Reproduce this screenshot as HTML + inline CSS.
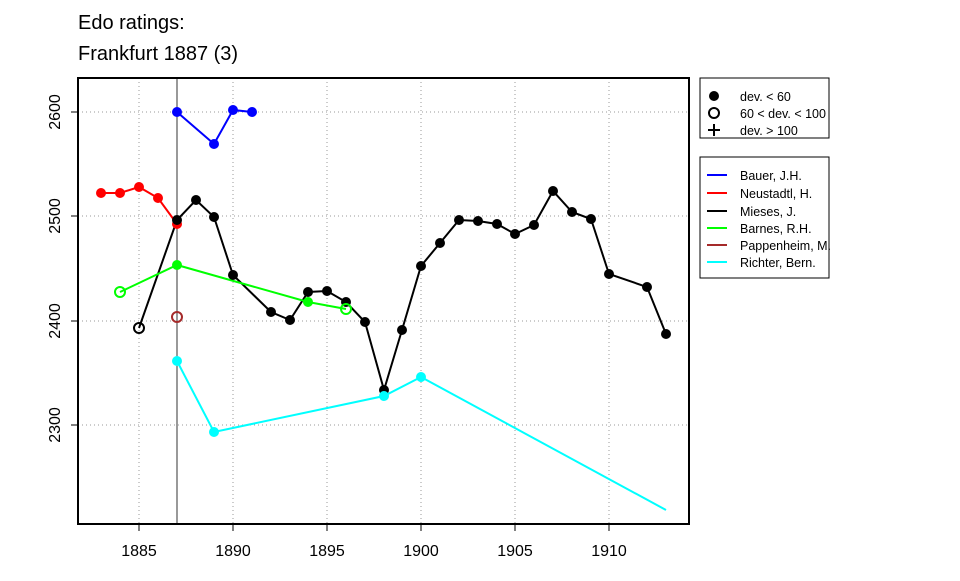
<!DOCTYPE html><html><head><style>body{margin:0;background:#fff}svg{font-family:"Liberation Sans",Arial,sans-serif}</style></head><body>
<svg width="960" height="576" xmlns="http://www.w3.org/2000/svg">
<text x="78" y="29" font-size="20">Edo ratings:</text>
<text x="78" y="60" font-size="20">Frankfurt 1887 (3)</text>
<g stroke="#999" stroke-dasharray="1,3" stroke-width="1">
<line x1="139" y1="78" x2="139" y2="524"/><line x1="233" y1="78" x2="233" y2="524"/><line x1="327" y1="78" x2="327" y2="524"/><line x1="421" y1="78" x2="421" y2="524"/><line x1="515" y1="78" x2="515" y2="524"/><line x1="609" y1="78" x2="609" y2="524"/>
<line x1="78" y1="112" x2="689" y2="112"/><line x1="78" y1="216" x2="689" y2="216"/><line x1="78" y1="321" x2="689" y2="321"/><line x1="78" y1="425" x2="689" y2="425"/>
</g>
<line x1="177" y1="78" x2="177" y2="524" stroke="#000" stroke-width="0.8"/>
<rect x="78" y="78" width="611" height="446" fill="none" stroke="#000" stroke-width="2"/>
<g stroke="#000"><line x1="139" y1="524" x2="139" y2="531"/><line x1="233" y1="524" x2="233" y2="531"/><line x1="327" y1="524" x2="327" y2="531"/><line x1="421" y1="524" x2="421" y2="531"/><line x1="515" y1="524" x2="515" y2="531"/><line x1="609" y1="524" x2="609" y2="531"/>
<line x1="71" y1="112" x2="78" y2="112"/><line x1="71" y1="216" x2="78" y2="216"/><line x1="71" y1="321" x2="78" y2="321"/><line x1="71" y1="425" x2="78" y2="425"/></g>
<g font-size="16" text-anchor="middle"><text x="139" y="556">1885</text><text x="233" y="556">1890</text><text x="327" y="556">1895</text><text x="421" y="556">1900</text><text x="515" y="556">1905</text><text x="609" y="556">1910</text>
<text transform="translate(60,112) rotate(-90)">2600</text><text transform="translate(60,216) rotate(-90)">2500</text><text transform="translate(60,321) rotate(-90)">2400</text><text transform="translate(60,425) rotate(-90)">2300</text></g>
<g fill="none" stroke-width="2">
<polyline stroke="#00f" points="177,112 214,144 233,110 252,112"/>
<polyline stroke="#f00" points="101,193 120,193 139,187 158,198 177,224"/>
<polyline stroke="#000" points="139,328 177,220 196,200 214,217 233,275 271,312 290,320 308,292 327,291 346,302 365,322 384,390 402,330 421,266 440,243 459,220 478,221 497,224 515,234 534,225 553,191 572,212 591,219 609,274 647,287 666,334"/>
<polyline stroke="#0f0" points="120,292 177,265 308,302 346,309"/>
<polyline stroke="#0ff" points="177,361 214,432 384,396 421,377 666,510"/>
</g>
<g fill="#00f"><circle cx="177" cy="112" r="5"/><circle cx="214" cy="144" r="5"/><circle cx="233" cy="110" r="5"/><circle cx="252" cy="112" r="5"/></g>
<g fill="#f00"><circle cx="101" cy="193" r="5"/><circle cx="120" cy="193" r="5"/><circle cx="139" cy="187" r="5"/><circle cx="158" cy="198" r="5"/><circle cx="177" cy="224" r="5"/></g>
<g fill="#000"><circle cx="177" cy="220" r="5"/><circle cx="196" cy="200" r="5"/><circle cx="214" cy="217" r="5"/><circle cx="233" cy="275" r="5"/><circle cx="271" cy="312" r="5"/><circle cx="290" cy="320" r="5"/><circle cx="308" cy="292" r="5"/><circle cx="327" cy="291" r="5"/><circle cx="346" cy="302" r="5"/><circle cx="365" cy="322" r="5"/><circle cx="384" cy="390" r="5"/><circle cx="402" cy="330" r="5"/><circle cx="421" cy="266" r="5"/><circle cx="440" cy="243" r="5"/><circle cx="459" cy="220" r="5"/><circle cx="478" cy="221" r="5"/><circle cx="497" cy="224" r="5"/><circle cx="515" cy="234" r="5"/><circle cx="534" cy="225" r="5"/><circle cx="553" cy="191" r="5"/><circle cx="572" cy="212" r="5"/><circle cx="591" cy="219" r="5"/><circle cx="609" cy="274" r="5"/><circle cx="647" cy="287" r="5"/><circle cx="666" cy="334" r="5"/></g>
<g fill="#0f0"><circle cx="177" cy="265" r="5"/><circle cx="308" cy="302" r="5"/></g>
<g fill="#0ff"><circle cx="177" cy="361" r="5"/><circle cx="214" cy="432" r="5"/><circle cx="384" cy="396" r="5"/><circle cx="421" cy="377" r="5"/></g>
<g fill="none" stroke-width="2"><circle cx="139" cy="328" r="5" stroke="#000"/><circle cx="120" cy="292" r="5" stroke="#0f0"/><circle cx="346" cy="309" r="5" stroke="#0f0"/><circle cx="177" cy="317" r="5" stroke="#a52a2a"/></g>
<rect x="700" y="78" width="129" height="60" fill="#fff" stroke="#000"/>
<circle cx="714" cy="96" r="5"/><circle cx="714" cy="113" r="5" fill="none" stroke="#000" stroke-width="2"/>
<path d="M708 130h12M714 124v12" stroke="#000" stroke-width="2"/>
<g font-size="12.5"><text x="740" y="101">dev. &lt; 60</text><text x="740" y="118">60 &lt; dev. &lt; 100</text><text x="740" y="135">dev. &gt; 100</text></g>
<rect x="700" y="157" width="129" height="121" fill="#fff" stroke="#000"/>
<g stroke-width="2"><line x1="707" y1="175" x2="727" y2="175" stroke="#00f"/><line x1="707" y1="193" x2="727" y2="193" stroke="#f00"/><line x1="707" y1="211" x2="727" y2="211" stroke="#000"/><line x1="707" y1="228" x2="727" y2="228" stroke="#0f0"/><line x1="707" y1="245" x2="727" y2="245" stroke="#a52a2a"/><line x1="707" y1="262" x2="727" y2="262" stroke="#0ff"/></g>
<g font-size="12.5"><text x="740" y="180">Bauer, J.H.</text><text x="740" y="198">Neustadtl, H.</text><text x="740" y="216">Mieses, J.</text><text x="740" y="233">Barnes, R.H.</text><text x="740" y="250">Pappenheim, M.</text><text x="740" y="267">Richter, Bern.</text></g>
</svg></body></html>
